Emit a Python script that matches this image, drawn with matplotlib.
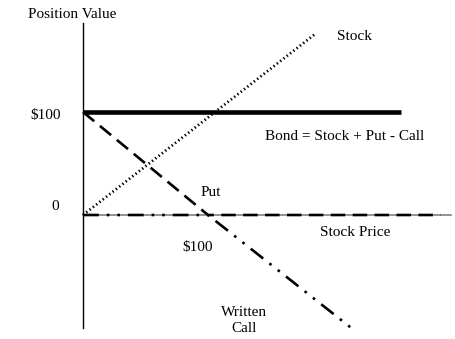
import matplotlib
matplotlib.use("Agg")
import matplotlib.pyplot as plt

# payoff diagram data (stock price vs position value)
strike = 100
bond_x = [0, 254]
bond_y = [100, 100]
stock_x = [0, 186]
stock_y = [0, 176]
put_x = [0, strike, 286]
put_y = [100, 0, 0]
call_x = [0, strike, 216]
call_y = [0, 0, -111]
axis_x_end = 294
axis_y_range = [-110, 186]

W, H = 455, 339
fig = plt.figure(figsize=(W / 100, H / 100), dpi=100)
ax = fig.add_axes([0, 0, 1, 1])
# pixel -> data: x0 at px 83 (1.25 px/unit), y0 at px 215 (1.03 px/unit)
ax.set_xlim(-83 / 1.25, (W - 83) / 1.25)
ax.set_ylim((215 - H) / 1.03, 215 / 1.03)
ax.axis("off")

ax.plot([0, axis_x_end], [0, 0], color="#808080", lw=1.2, zorder=1)
ax.plot([0, 0], axis_y_range, color="black", lw=1.0, zorder=1)

ax.plot(bond_x, bond_y, color="black", lw=3.3, solid_capstyle="butt", zorder=3)
ax.plot(stock_x, stock_y, color="black", lw=2.0, ls=(0, (0.5, 1.0)), zorder=3)
ax.plot(put_x, put_y, color="black", lw=1.9, ls=(0, (5.5, 2.8)), zorder=4)
ax.plot(call_x, call_y, color="black", lw=1.9, ls=(0, (6, 3, 1, 3, 1, 3)), zorder=5)

font = dict(family="Liberation Serif", fontsize=11, color="black")


def label(px, py, s, ha="center", **kw):
    fig.text(px / W, 1 - py / H, s, ha=ha, va="center", **font, **kw)


label(72, 15, "Position Value")
label(355, 36, "Stock")
label(61, 115, "$100", ha="right")
label(345, 137, "Bond = Stock + Put - Call")
label(211, 192, "Put")
label(55, 207, "0")
label(355, 232, "Stock Price")
label(198, 248, "$100")
label(244, 321, "Written\nCall", linespacing=1.3)

fig.savefig("out.png", dpi=100)
